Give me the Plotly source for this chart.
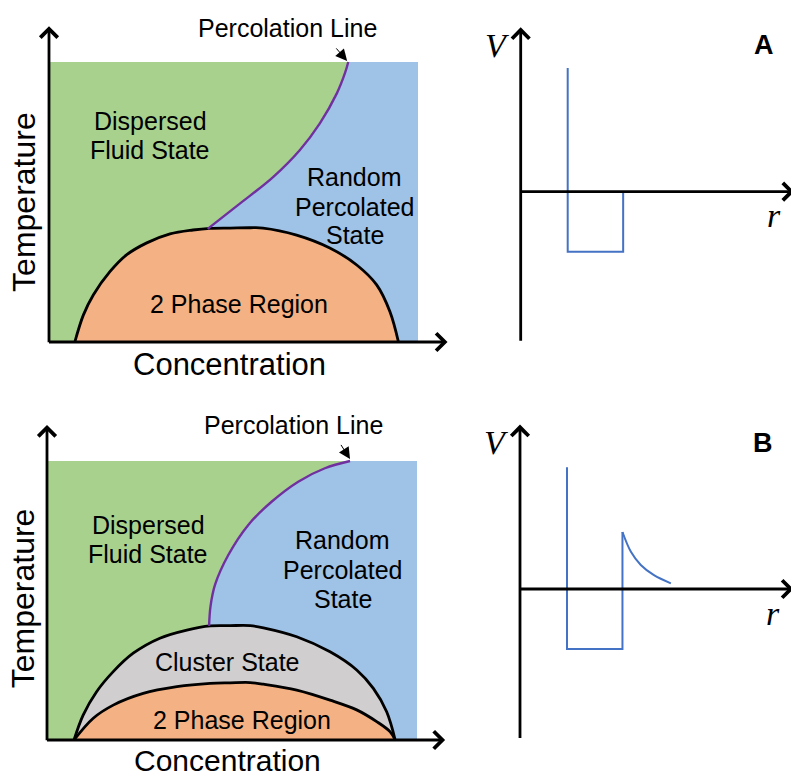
import plotly.graph_objects as go

W, H = 791, 778
SANS = "Liberation Sans, Arial, sans-serif"
SERIF = "Liberation Serif, Times New Roman, serif"

GREEN = "#a9d18e"
BLUE = "#9fc2e7"
ORANGE = "#f4b183"
GRAY = "#d0cece"
PURPLE = "#7030a0"
LINEBLUE = "#4472c4"

# ---------------- data (normalised concentration / temperature) ----------------
# Panel A phase diagram
a_dome_c = [0.070, 0.093, 0.120, 0.165, 0.210, 0.265, 0.328, 0.390, 0.436, 0.491, 0.545, 0.580, 0.671, 0.761, 0.834, 0.888, 0.924, 0.947]
a_dome_T = [0.000, 0.096, 0.168, 0.251, 0.311, 0.354, 0.386, 0.400, 0.406, 0.407, 0.408, 0.407, 0.382, 0.336, 0.275, 0.204, 0.108, 0.000]
a_perc_c = [0.430, 0.518, 0.608, 0.680, 0.734, 0.780, 0.802, 0.811]
a_perc_T = [0.404, 0.495, 0.590, 0.686, 0.781, 0.888, 0.960, 1.000]

# Panel B phase diagram
b_outer_c = [0.073, 0.098, 0.134, 0.179, 0.233, 0.305, 0.378, 0.441, 0.495, 0.549, 0.585, 0.675, 0.765, 0.837, 0.882, 0.918, 0.941]
b_outer_T = [0.000, 0.090, 0.173, 0.245, 0.311, 0.365, 0.394, 0.409, 0.410, 0.410, 0.402, 0.370, 0.316, 0.251, 0.185, 0.101, 0.000]
b_inner_c = [0.073, 0.125, 0.179, 0.260, 0.351, 0.441, 0.495, 0.549, 0.585, 0.675, 0.765, 0.837, 0.891, 0.927, 0.941]
b_inner_T = [0.000, 0.078, 0.125, 0.167, 0.191, 0.203, 0.205, 0.206, 0.200, 0.179, 0.143, 0.108, 0.066, 0.030, 0.000]
b_perc_c = [0.438, 0.442, 0.454, 0.490, 0.544, 0.607, 0.679, 0.751, 0.819]
b_perc_T = [0.409, 0.480, 0.556, 0.663, 0.771, 0.854, 0.926, 0.974, 1.000]

# Pair potentials V(r)  (r in units of sigma, V in units of well depth)
a_pot_r = [1.0, 1.0, 2.18, 2.18]
a_pot_V = [2.06, -1.0, -1.0, 0.0]
b_pot_r = [1.0, 1.0, 2.18, 2.18]
b_pot_V = [2.03, -1.0, -1.0, 0.95]
b_tail_r = [2.18, 2.36, 2.57, 2.85, 3.21]
b_tail_V = [0.95, 0.62, 0.40, 0.23, 0.095]

# ---------------- panel geometry (pixels) ----------------
# box = (left, top, right, bottom); origin px of data (0,0); px per data unit
panels = {
    1: dict(box=(0, 0, 452, 392), origin=(49, 342), scale=(369, 280)),
    2: dict(box=(452, 0, 791, 392), origin=(520.7, 191.7), scale=(47, 60)),
    3: dict(box=(0, 392, 452, 778), origin=(47, 740), scale=(370, 279)),
    4: dict(box=(452, 392, 791, 778), origin=(520, 589), scale=(47, 60)),
}

fig = go.Figure()
layout = dict(width=W, height=H, margin=dict(l=0, r=0, t=0, b=0),
              paper_bgcolor="white", plot_bgcolor="rgba(0,0,0,0)", showlegend=False)

def refs(p):
    return ("x" if p == 1 else f"x{p}"), ("y" if p == 1 else f"y{p}")

for p, d in panels.items():
    l, t, r, b = d["box"]
    x0, y0 = d["origin"]
    sx, sy = d["scale"]
    xa = dict(domain=[l / W, r / W], range=[(l - x0) / sx, (r - x0) / sx],
              visible=False, fixedrange=True)
    ya = dict(domain=[1 - b / H, 1 - t / H], range=[(y0 - b) / sy, (y0 - t) / sy],
              visible=False, fixedrange=True)
    xn, yn = refs(p)
    if p != 1:
        xa["anchor"] = yn
        ya["anchor"] = xn
    layout["xaxis" if p == 1 else f"xaxis{p}"] = xa
    layout["yaxis" if p == 1 else f"yaxis{p}"] = ya

def tr(p, **kw):
    xn, yn = refs(p)
    fig.add_trace(go.Scatter(xaxis=xn, yaxis=yn, hoverinfo="skip", **kw))

def phase_panel(p, perc_c, perc_T, outer_c, outer_T, inner=None):
    # whole region green
    tr(p, x=[0, 1, 1, 0, 0], y=[0, 0, 1, 1, 0], mode="lines", fill="toself",
       fillcolor=GREEN, line=dict(width=0))
    # blue region right of percolation line
    c_start = perc_c[0]
    right = [(c, T) for c, T in zip(outer_c, outer_T) if c >= c_start]
    right = right[::-1]
    bx = list(perc_c) + [1, 1] + [c for c, _ in right] + [perc_c[0]]
    by = list(perc_T) + [1, 0] + [T for _, T in right] + [perc_T[0]]
    tr(p, x=bx, y=by, mode="lines", fill="toself", fillcolor=BLUE, line=dict(width=0))
    # dome(s)
    if inner is None:
        tr(p, x=outer_c, y=outer_T, mode="lines", fill="toself", fillcolor=ORANGE,
           line=dict(color="black", width=2.8, shape="spline", smoothing=1))
    else:
        tr(p, x=outer_c, y=outer_T, mode="lines", fill="toself", fillcolor=GRAY,
           line=dict(color="black", width=2.8, shape="spline", smoothing=1))
        tr(p, x=inner[0], y=inner[1], mode="lines", fill="toself", fillcolor=ORANGE,
           line=dict(color="black", width=2.8, shape="spline", smoothing=1))
    # percolation line
    tr(p, x=perc_c, y=perc_T, mode="lines",
       line=dict(color=PURPLE, width=2.4, shape="spline", smoothing=1))

phase_panel(1, a_perc_c, a_perc_T, a_dome_c, a_dome_T)
phase_panel(3, b_perc_c, b_perc_T, b_outer_c, b_outer_T, inner=(b_inner_c, b_inner_T))

tr(2, x=a_pot_r, y=a_pot_V, mode="lines", line=dict(color=LINEBLUE, width=2))
tr(4, x=b_pot_r, y=b_pot_V, mode="lines", line=dict(color=LINEBLUE, width=2))
tr(4, x=b_tail_r, y=b_tail_V, mode="lines",
   line=dict(color=LINEBLUE, width=2, shape="spline", smoothing=1))

annotations = []

def txt(p, s, x, y, size=25, family=SANS, **kw):
    xn, yn = refs(p)
    annotations.append(dict(text=s, x=x, y=y, xref=xn, yref=yn, showarrow=False,
                            font=dict(size=size, family=family, color="black"),
                            xanchor="center", yanchor="middle", **kw))

def arrow(p, x0, y0, x1, y1, width=2.8, head=4, size=1.2, color="black"):
    xn, yn = refs(p)
    annotations.append(dict(text="", x=x1, y=y1, ax=x0, ay=y0, xref=xn, yref=yn,
                            axref=xn, ayref=yn, showarrow=True, arrowhead=head,
                            arrowsize=size, arrowwidth=width, arrowcolor=color,
                            standoff=0, startstandoff=0))

# ---- Panel A phase diagram text/axes
arrow(1, 0, -0.006, 0, 1.128)
arrow(1, -0.004, 0, 1.080, 0)
arrow(1, 0.775, 1.054, 0.808, 1.004, width=1, head=2, size=2.3)
txt(1, "Percolation Line", 0.645, 1.121, size=25)
txt(1, "Dispersed", 0.274, 0.791)
txt(1, "Fluid State", 0.274, 0.686)
txt(1, "Random", 0.829, 0.590)
txt(1, "Percolated", 0.829, 0.483)
txt(1, "State", 0.829, 0.382)
txt(1, "2 Phase Region", 0.514, 0.136)
txt(1, "Temperature", -0.068, 0.500, size=32, textangle=-90)
txt(1, "Concentration", 0.488, -0.080, size=31)

# ---- Panel B phase diagram text/axes
arrow(3, 0, -0.006, 0, 1.129)
arrow(3, -0.004, 0, 1.076, 0)
arrow(3, 0.792, 1.063, 0.819, 1.007, width=1, head=2, size=2.3)
txt(3, "Percolation Line", 0.666, 1.129, size=25)
txt(3, "Dispersed", 0.274, 0.771)
txt(3, "Fluid State", 0.274, 0.665)
txt(3, "Random", 0.799, 0.717)
txt(3, "Percolated", 0.799, 0.611)
txt(3, "State", 0.799, 0.506)
txt(3, "Cluster State", 0.487, 0.281)
txt(3, "2 Phase Region", 0.527, 0.072)
txt(3, "Temperature", -0.065, 0.508, size=32, textangle=-90)
txt(3, "Concentration", 0.488, -0.075, size=30)

# ---- Potential panels
for p, lab in ((2, "A"), (4, "B")):
    arrow(p, 0, -2.51, 0, 2.74)
    arrow(p, -0.02, 0, 5.82, 0)
    txt(p, "<i>V</i>", -0.50, 2.44, size=34, family=SERIF)
    txt(p, "<i>r</i>", 5.39, -0.40, size=34, family=SERIF)
    txt(p, f"<b>{lab}</b>", 5.17, 2.44, size=27)

layout["annotations"] = annotations
fig.update_layout(**layout)
fig.write_html("out.html")
